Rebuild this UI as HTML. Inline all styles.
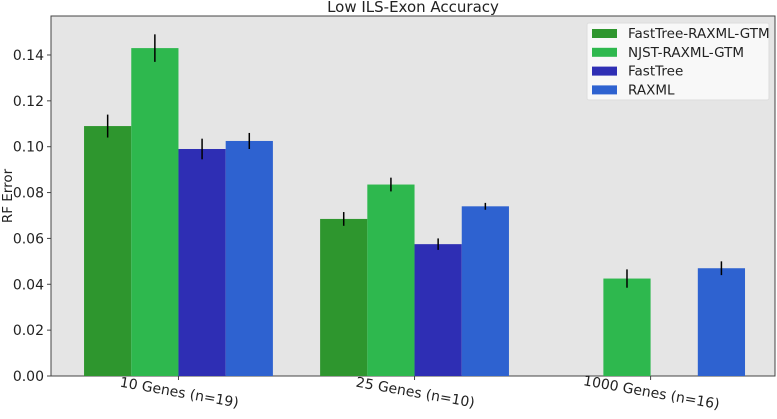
<!DOCTYPE html>
<html><head><meta charset="utf-8"><style>
body{margin:0;background:#fff;font-family:"DejaVu Sans","Liberation Sans",sans-serif;}
svg text{font-family:"DejaVu Sans","Liberation Sans",sans-serif;fill:#222;}
</style></head><body>
<svg id="chart" width="777" height="415" xmlns="http://www.w3.org/2000/svg">
<rect x="51" y="16" width="724" height="360" fill="#e5e5e5" stroke="#444" stroke-width="1"/>
<text x="413" y="12" text-anchor="middle" font-size="15">Low ILS-Exon Accuracy</text>
<text transform="translate(12,196) rotate(-90)" text-anchor="middle" font-size="13.5">RF Error</text>
<g id="marks"></g>
<g>
<rect x="587" y="23" width="182" height="77" fill="#f8f8f8" stroke="#ddd" rx="2"/>
</g>
</svg>
<script>
const categories=["10 Genes (n=19)","25 Genes (n=10)","1000 Genes (n=16)"];
const seriesNames=["FastTree-RAXML-GTM","NJST-RAXML-GTM","FastTree","RAXML"];
const colors=["#2e962e","#2eb84e","#2e2eb4","#2e62d0"];
const s0=[0.109,0.0685,null];
const s1=[0.143,0.0835,0.0425];
const s2=[0.099,0.0575,null];
const s3=[0.1025,0.074,0.047];
const e0=[0.005,0.003,null];
const e1=[0.006,0.003,0.004];
const e2=[0.0045,0.0025,null];
const e3=[0.0035,0.0015,0.003];
const yTicks=[0,0.02,0.04,0.06,0.08,0.1,0.12,0.14];
const series=[s0,s1,s2,s3], errs=[e0,e1,e2,e3];
const NS="http://www.w3.org/2000/svg";
const svg=document.getElementById('chart'), g=document.getElementById('marks');
const X0=51,X1=775,Y0=376,Y1=16,xmin=-0.54,xmax=2.527,ymax=0.157;
const xs=v=>X0+(v-xmin)/(xmax-xmin)*(X1-X0);
const ys=v=>Y0-v/ymax*(Y0-Y1);
function mk(t,a,p){const e=document.createElementNS(NS,t);for(const k in a)e.setAttribute(k,a[k]);(p||g).appendChild(e);return e;}
const bw=0.2;
series.forEach((s,si)=>{s.forEach((v,ci)=>{if(v==null)return;
 const xl=ci+(si-2)*bw;
 const r=mk('rect',{x:xs(xl),y:ys(v),width:xs(xl+bw)-xs(xl),height:ys(0)-ys(v),fill:colors[si]});
 
 
 const xc=xs(xl+bw/2),er=errs[si][ci];
 const l=mk('line',{x1:xc,x2:xc,y1:ys(v-er),y2:ys(v+er),stroke:'#000','stroke-width':1.5});
 
 
});});
yTicks.forEach(t=>{const y=ys(t);
 mk('line',{x1:X0-4,x2:X0,y1:y,y2:y,stroke:'#444'});
 const tx=mk('text',{x:X0-7,y:y+5,'text-anchor':'end','font-size':14});tx.textContent=t.toFixed(2);
 
 
});
categories.forEach((c,i)=>{const x=xs(i);
 mk('line',{x1:x,x2:x,y1:Y0,y2:Y0+4,stroke:'#444'});
 const tx=mk('text',{transform:`translate(${x},${Y0+21}) rotate(10)`,'text-anchor':'middle','font-size':14});tx.textContent=c;
 
 
});
seriesNames.forEach((n,i)=>{const y=33+i*18.8;
 const r=mk('rect',{x:592,y:y-4,width:25,height:9,fill:colors[i]},svg);
 
 
 const t=mk('text',{x:628,y:y+5,'font-size':13.5},svg);t.textContent=n;
 
 
});
</script>
</body></html>
